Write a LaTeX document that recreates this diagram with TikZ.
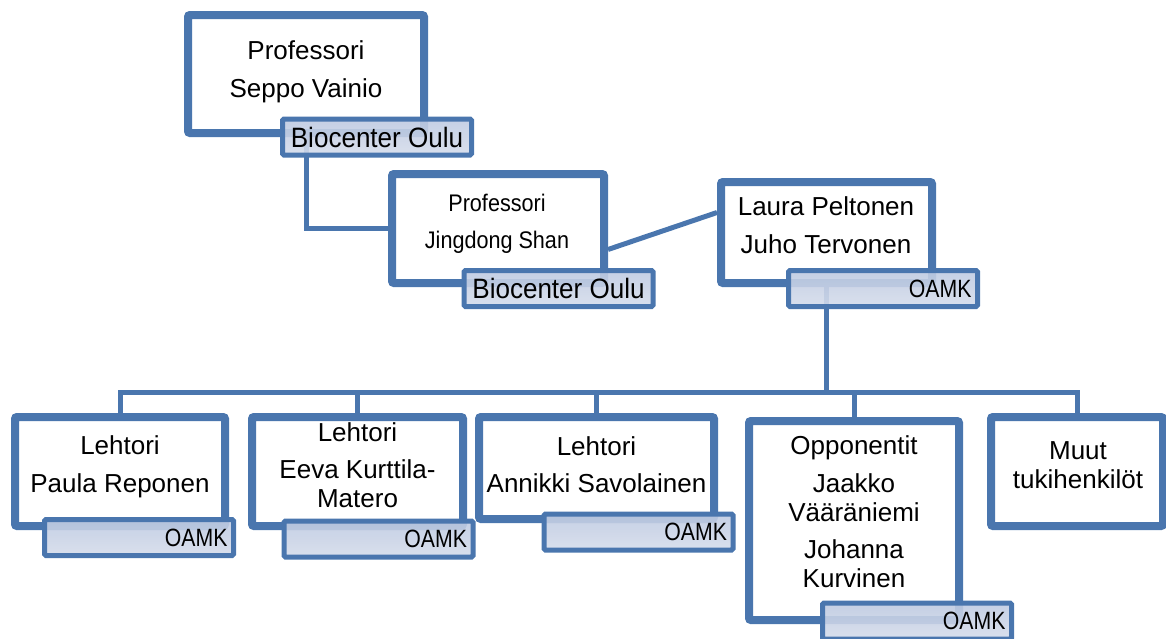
\documentclass[tikz,border=0pt]{standalone}
\usepackage{fontspec}
\setmainfont{Liberation Sans}
\newfontfamily\narrowB[FakeStretch=0.9]{Liberation Sans}
\newfontfamily\narrowL[FakeStretch=0.93]{Liberation Sans}
\newfontfamily\narrowO[FakeStretch=0.85]{Liberation Sans}
\usetikzlibrary{shadows,calc}
\pgfdeclarelayer{background}
\pgfsetlayers{background,main}
\definecolor{orgblue}{HTML}{4A76AE}
\definecolor{labtop}{HTML}{BFCBE2}
\definecolor{labbot}{HTML}{D5DCEB}
\begin{document}
\begin{tikzpicture}[x=1pt,y=-1pt,
  box/.style={draw=orgblue, line width=8pt, fill=white, rounded corners=2pt, inner sep=0pt,
    drop shadow={shadow xshift=2pt, shadow yshift=-3pt, opacity=0.22}},
  txt/.style={font=\fontsize{26}{29}\selectfont, align=center, inner sep=0pt, anchor=base},
  txtn/.style={txt, font=\narrowB\fontsize{24}{28}\selectfont},
  conn/.style={draw=orgblue, line width=5pt},
  lab/.style={draw=orgblue, line width=5pt, top color=labtop, bottom color=labbot,
    fill opacity=0.9, text opacity=1, rounded corners=1.5pt,
    minimum width=189pt, minimum height=36pt, inner sep=0pt},
  bio/.style={lab, font=\narrowL\fontsize{28}{28}\selectfont},
  oamk/.style={lab, font=\narrowO\fontsize{25}{25}\selectfont, text width=177pt, align=right}]
\useasboundingbox (0,0) rectangle (1166,638);
% boxes
\node[box, minimum width=236pt, minimum height=118pt] (A) at (306,74) {};
\node[box, minimum width=212pt, minimum height=109pt] (B) at (498,228.5) {};
\node[box, minimum width=211pt, minimum height=101pt] (C) at (826.5,232.5) {};
\node[box, minimum width=210pt, minimum height=109pt] (P1) at (120,471.5) {};
\node[box, minimum width=211pt, minimum height=109pt] (P2) at (357.5,471.5) {};
\node[box, minimum width=235pt, minimum height=102pt] (P3) at (596.5,468) {};
\node[box, minimum width=210pt, minimum height=199pt] (P4) at (854,520.5) {};
\node[box, minimum width=172pt, minimum height=109pt] (P5) at (1077,471.5) {};
% connectors (behind boxes)
\coordinate (busy) at (0,392);
\coordinate (bcs) at ($(B.east)+(0,21)$);
\coordinate (bce) at ($(C.west)+(0,-20)$);
\begin{pgfonlayer}{background}
\draw[conn] (A.south) |- (B.west);
\draw[conn] (bcs) -- (bce);
\foreach \p in {P1,P2,P3,P4,P5}
  \draw[conn] (C.south) -- (C.south |- busy) -| (\p.north);
\end{pgfonlayer}
% texts (anchored at the baseline of the last line)
\node[txt] (At) at (306,97) {Professori\\[9pt]Seppo Vainio};
\node[txtn] (Bt) at (497,248) {Professori\\[9pt]Jingdong Shan};
\node[txt] (Ct) at (826,253) {Laura Peltonen\\[9pt]Juho Tervonen};
\node[txt] (P1t) at (120,492) {Lehtori\\[9pt]Paula Reponen};
\node[txt] (P2t) at (357.5,507) {Lehtori\\[8pt]Eeva Kurttila-\\Matero};
\node[txt] (P3t) at (596.5,492) {Lehtori\\[8pt]Annikki Savolainen};
\node[txt] (P4t) at (854,587) {Opponentit\\[9pt]Jaakko\\Vääräniemi\\[8pt]Johanna\\Kurvinen};
\node[txt] (P5t) at (1078,488) {Muut\\tukihenkilöt};
% labels
\node[bio] (LA) at (377,137) {Biocenter Oulu};
\node[bio] (LB) at (558.5,288.5) {Biocenter Oulu};
\node[oamk] (LC) at (883,288.5) {OAMK};
\node[oamk] (L1) at (139,537.5) {OAMK};
\node[oamk] (L2) at (378.5,539) {OAMK};
\node[oamk] (L3) at (638.5,532) {OAMK};
\node[oamk] (L4) at (917,621) {OAMK};
\end{tikzpicture}
\end{document}
